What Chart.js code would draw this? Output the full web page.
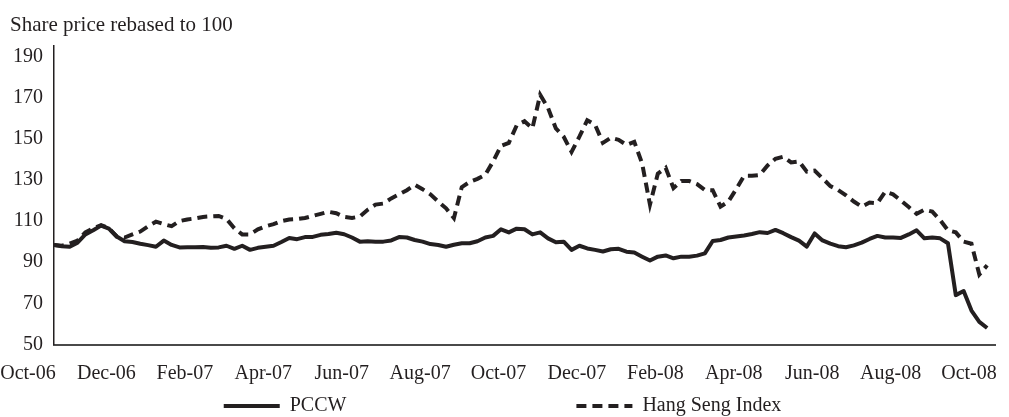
<!DOCTYPE html>
<html>
<head>
<meta charset="utf-8">
<title>PCCW vs Hang Seng Index</title>
<script src="https://cdn.jsdelivr.net/npm/chart.js@4/dist/chart.umd.min.js"></script>
<style>
  html, body { margin: 0; padding: 0; background: #ffffff; }
  #wrap { width: 1009px; height: 417px; }
</style>
</head>
<body>
<div id="wrap"><canvas id="chart"></canvas></div>
<script>
// roughly weekly readings, rebased to 100 (Oct-06 .. Oct-08)
const pccw = [
  98.4, 97.8, 97.5, 99.5, 103.5, 105.5, 107.8, 106.3, 102.5, 100.2,
  99.8, 99, 98.3, 97.5, 100.5, 98.4, 97.2, 97.3, 97.3, 97.4,
  97, 97.2, 98, 96.5, 98, 96, 97, 97.5, 98, 99.8,
  101.8, 101.2, 102.2, 102.3, 103.3, 103.7, 104.3, 103.6, 102, 100,
  100.2, 100, 100, 100.6, 102.2, 102, 100.8, 100, 98.8, 98.4,
  97.5, 98.5, 99.2, 99.2, 100.2, 102, 102.8, 106, 104.5, 106.3,
  106, 103.5, 104.5, 101.6, 99.7, 100, 96, 98, 96.7, 96,
  95.2, 96.3, 96.5, 95.1, 94.7, 92.7, 90.8, 92.7, 93.3, 91.9,
  92.7, 92.7, 93.2, 94.3, 100.3, 100.8, 102, 102.5, 103, 103.7,
  104.6, 104.2, 105.7, 104.1, 102.2, 100.5, 97.6, 104, 100.6, 99,
  97.8, 97.3, 98.2, 99.5, 101.3, 102.8, 102, 102, 101.8, 103.5,
  105.5, 101.6, 102, 101.6, 99.2, 74, 76, 66.5, 61, 58
];

const hangSeng = [
  98.4, 98, 99, 100.5, 104.5, 106.5, 108, 106.5, 102.5, 102,
  103.5, 104.9, 107.5, 109.7, 108.5, 107.5, 110, 110.8, 111.3, 112,
  112.3, 112.5, 111, 106.5, 103.5, 103.5, 106, 107.5, 108.5, 110,
  110.8, 111, 111.5, 112.5, 113.5, 114.5, 113.8, 112, 111.5, 112.2,
  115.5, 118, 118.5, 121, 123, 125, 127.6, 125.5, 123, 119.5,
  116.2, 111.4, 126.5, 129, 130.5, 132.5, 139, 146.5, 148, 156.5,
  158.5, 155, 171.4, 165, 155, 151, 143.6, 151, 159, 156.8,
  148, 150.5, 149.5, 147, 148.5, 138, 118, 133, 135.9, 126,
  129.5, 129.5, 128, 125.1, 125, 117, 119.5, 125.5, 132, 132,
  132.4, 137, 140.3, 141.3, 138.5, 139, 134, 134.5, 130.8, 127,
  125.1, 122.5, 119.5, 117, 119, 118.7, 124.3, 123, 120, 116.8,
  113.5, 115.5, 114.6, 110.5, 105.5, 104.5, 100, 99, 84, 88.5
];

const monthLabels = ["Oct-06", "Dec-06", "Feb-07", "Apr-07", "Jun-07", "Aug-07", "Oct-07",
                     "Dec-07", "Feb-08", "Apr-08", "Jun-08", "Aug-08", "Oct-08"];
const yTicks = [50, 70, 90, 110, 130, 150, 170, 190];

const STEP = 0.2;      // months between readings
const X_MAX = 24;      // axis runs to end of Oct-08 label slot
const ink = "#231f20";
const serif = "'Liberation Serif', 'Times New Roman', serif";

const toPoints = arr => arr.map((v, i) => ({ x: i * STEP, y: v }));

Chart.defaults.font.family = serif;
Chart.defaults.color = ink;

new Chart(document.getElementById("chart"), {
  type: "line",
  data: {
    datasets: [
      {
        label: "PCCW",
        data: toPoints(pccw),
        borderColor: ink,
        backgroundColor: ink,
        borderWidth: 4,
        pointRadius: 0,
        tension: 0,
        borderJoinStyle: "round"
      },
      {
        label: "Hang Seng Index",
        data: toPoints(hangSeng),
        borderColor: ink,
        backgroundColor: ink,
        borderWidth: 4,
        borderDash: [10, 6],
        pointRadius: 0,
        tension: 0
      }
    ]
  },
  options: {
    responsive: true,
    maintainAspectRatio: false,
    animation: false,
    layout: { padding: { left: 10, right: 14, top: 0, bottom: -9 } },
    plugins: {
      title: {
        display: true,
        text: "Share price rebased to 100",
        align: "start",
        color: ink,
        font: { size: 21, weight: "normal" },
        padding: { top: 13, bottom: 8 }
      },
      legend: {
        position: "bottom",
        labels: {
          usePointStyle: true,
          pointStyleWidth: 56,
          padding: 10,
          color: ink,
          font: { size: 20 },
          generateLabels(chart) {
            return chart.data.datasets.map((ds, i) => ({
              // trailing gap pushes the second entry to the right
              text: i === 0 ? ds.label + " ".repeat(44) : ds.label,
              fillStyle: ds.borderColor,
              strokeStyle: ds.borderColor,
              lineWidth: ds.borderWidth,
              lineDash: ds.borderDash || [],
              lineCap: "butt",
              pointStyle: "line",
              fontColor: ink,
              hidden: !chart.isDatasetVisible(i),
              datasetIndex: i
            }));
          }
        }
      },
      tooltip: { enabled: false }
    },
    scales: {
      x: {
        type: "linear",
        min: 0,
        max: X_MAX,
        grid: { display: false, drawTicks: false },
        border: { display: true, color: "#4a4a4a", width: 2 },
        afterBuildTicks(scale) {
          scale.ticks = monthLabels.map((_, k) => ({ value: k * 2 }));
        },
        afterFit(scale) {
          // labels are shifted left, so no extra edge room is needed
          scale.paddingLeft = 0;
          scale.paddingRight = 0;
          scale.height = 41.5;
        },
        ticks: {
          autoSkip: false,
          maxRotation: 0,
          padding: 17.5,
          labelOffset: -26,
          color: ink,
          font: { size: 20 },
          callback: value => monthLabels[Math.round(value / 2)]
        }
      },
      y: {
        min: 50,
        max: 195,
        grid: { display: false, drawTicks: false },
        border: { display: true, color: ink, width: 1.5 },
        afterBuildTicks(scale) {
          scale.ticks = yTicks.map(v => ({ value: v }));
        },
        afterFit(scale) { scale.width = 44; },
        ticks: {
          padding: 11,
          color: ink,
          font: { size: 20 }
        }
      }
    }
  }
});
</script>
</body>
</html>
